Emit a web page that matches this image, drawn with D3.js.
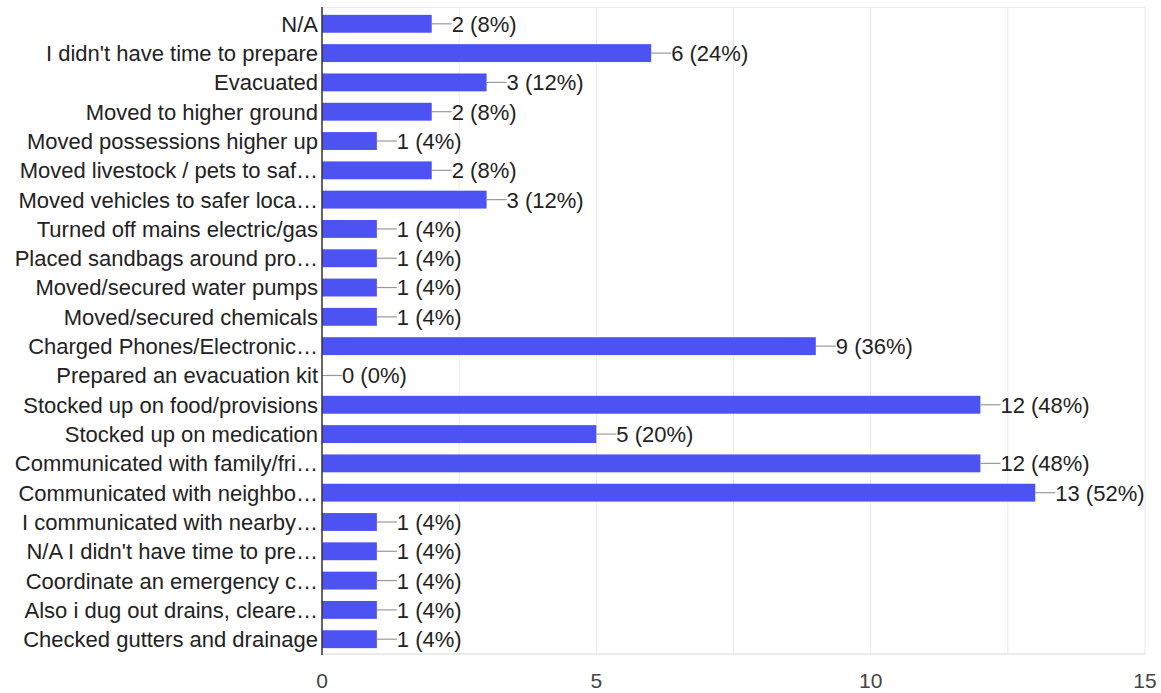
<!DOCTYPE html>
<html>
<head>
<meta charset="utf-8">
<script src="https://cdn.jsdelivr.net/npm/d3@7"></script>
<style>
  body { margin: 0; background: #fff; }
  text { font-family: "Liberation Sans", Arial, sans-serif; }
</style>
</head>
<body>
<div id="graph"></div>
<script>
var categories = [
  "N/A",
  "I didn't have time to prepare",
  "Evacuated",
  "Moved to higher ground",
  "Moved possessions higher up",
  "Moved livestock / pets to saf\u2026",
  "Moved vehicles to safer loca\u2026",
  "Turned off mains electric/gas",
  "Placed sandbags around pro\u2026",
  "Moved/secured water pumps",
  "Moved/secured chemicals",
  "Charged Phones/Electronic\u2026",
  "Prepared an evacuation kit",
  "Stocked up on food/provisions",
  "Stocked up on medication",
  "Communicated with family/fri\u2026",
  "Communicated with neighbo\u2026",
  "I communicated with nearby\u2026",
  "N/A I didn't have time to pre\u2026",
  "Coordinate an emergency c\u2026",
  "Also i dug out drains, cleare\u2026",
  "Checked gutters and drainage"
];
var counts = [2, 6, 3, 2, 1, 2, 3, 1, 1, 1, 1, 9, 0, 12, 5, 12, 13, 1, 1, 1, 1, 1];
var percents = [8, 24, 12, 8, 4, 8, 12, 4, 4, 4, 4, 36, 0, 48, 20, 48, 52, 4, 4, 4, 4, 4];
var xTicks = [0, 5, 10, 15];
var gridTicks = [2.5, 5, 7.5, 10, 12.5, 15];

var data = categories.map(function(c, i) {
  return { cat: c, n: counts[i], pct: percents[i] };
});

var width = 1161, height = 693;
var mLeft = 322, mRight = 1145, mTop = 7, mBottom = 654;

var svg = d3.select("#graph").append("svg")
  .attr("width", width)
  .attr("height", height);

var x = d3.scaleLinear().domain([0, 15]).range([mLeft, mRight]);
var y = d3.scaleBand().domain(categories).range([mTop + 2, mBottom]).paddingInner(0.39).paddingOuter(0.2);

// grid
svg.append("g").selectAll("line")
  .data(gridTicks)
  .join("line")
  .attr("x1", d => x(d)).attr("x2", d => x(d))
  .attr("y1", mTop).attr("y2", mBottom)
  .attr("stroke", "#ebebeb").attr("stroke-width", 1);

svg.append("line")
  .attr("x1", mLeft).attr("x2", mRight)
  .attr("y1", mTop + 0.5).attr("y2", mTop + 0.5)
  .attr("stroke", "#ebebeb");
svg.append("line")
  .attr("x1", mLeft).attr("x2", mRight)
  .attr("y1", mBottom).attr("y2", mBottom)
  .attr("stroke", "#ebebeb").attr("stroke-width", 2);

// bars
svg.append("g").selectAll("rect")
  .data(data)
  .join("rect")
  .attr("x", x(0))
  .attr("y", d => y(d.cat))
  .attr("width", d => x(d.n) - x(0))
  .attr("height", y.bandwidth())
  .attr("fill", "#4c53f2");

// value connectors + labels
svg.append("g").selectAll("line")
  .data(data)
  .join("line")
  .attr("x1", d => x(d.n))
  .attr("x2", d => x(d.n) + 20)
  .attr("y1", d => y(d.cat) + y.bandwidth() / 2)
  .attr("y2", d => y(d.cat) + y.bandwidth() / 2)
  .attr("stroke", "#999").attr("stroke-width", 1.2);

svg.append("g").selectAll("text")
  .data(data)
  .join("text")
  .attr("x", d => x(d.n) + 20)
  .attr("y", d => y(d.cat) + y.bandwidth() / 2)
  .attr("dy", "0.36em")
  .attr("font-size", 22)
  .attr("fill", "#222")
  .text(d => d.n + " (" + d.pct + "%)");

// y axis labels
svg.append("g").selectAll("text")
  .data(data)
  .join("text")
  .attr("x", mLeft - 4)
  .attr("y", d => y(d.cat) + y.bandwidth() / 2)
  .attr("dy", "0.36em")
  .attr("text-anchor", "end")
  .attr("font-size", 22)
  .attr("fill", "#222")
  .text(d => d.cat);

// y axis line
svg.append("line")
  .attr("x1", mLeft).attr("x2", mLeft)
  .attr("y1", mTop).attr("y2", mBottom + 1)
  .attr("stroke", "#333").attr("stroke-width", 1.5);

// x ticks
svg.append("g").selectAll("text")
  .data(xTicks)
  .join("text")
  .attr("x", d => x(d))
  .attr("y", 688)
  .attr("text-anchor", "middle")
  .attr("font-size", 21)
  .attr("fill", "#444")
  .text(d => d);
</script>
</body>
</html>
